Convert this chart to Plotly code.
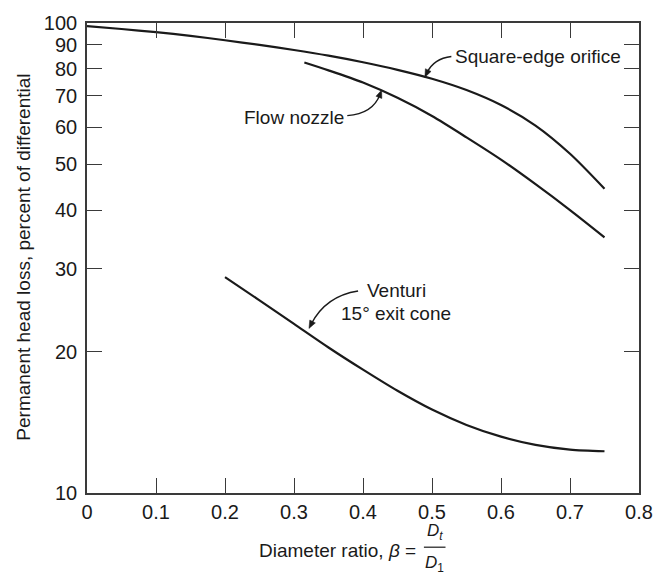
import math
import plotly.graph_objects as go

# ---- data ----
x_ticks = [0, 0.1, 0.2, 0.3, 0.4, 0.5, 0.6, 0.7, 0.8]
x_tick_text = ["0", "0.1", "0.2", "0.3", "0.4", "0.5", "0.6", "0.7", "0.8"]
y_ticks = [10, 20, 30, 40, 50, 60, 70, 80, 90, 100]
y_tick_text = ["10", "20", "30", "40", "50", "60", "70", "80", "90", "100"]

orifice_beta = [0.0, 0.05, 0.1, 0.15, 0.2, 0.25, 0.3, 0.35, 0.4, 0.45, 0.5,
                0.55, 0.6, 0.65, 0.7, 0.75]
orifice_loss = [98.5, 97.1, 95.6, 93.9, 91.9, 89.8, 87.6, 85.2, 82.5, 79.5, 76.1,
                72.0, 66.9, 60.5, 52.7, 44.4]

nozzle_beta = [0.315, 0.35, 0.4, 0.45, 0.5, 0.55, 0.6, 0.65, 0.7, 0.75]
nozzle_loss = [82.4, 79.3, 74.7, 69.3, 63.4, 57.1, 51.2, 45.4, 40.0, 35.0]

venturi_beta = [0.2, 0.25, 0.3, 0.35, 0.4, 0.45, 0.5, 0.55, 0.6, 0.65, 0.7, 0.75]
venturi_loss = [28.8, 25.7, 22.9, 20.4, 18.3, 16.5, 15.05, 13.96, 13.18, 12.66, 12.37, 12.27]

# ---- figure ----
W, H = 665, 578
L, R, T, B = 87, 16, 16, 85
FONT = "Liberation Sans, Arial, sans-serif"
INK = "#1a1a1a"

fig = go.Figure()
line_style = dict(color=INK, width=2.2, shape="spline", smoothing=0.8)
for name, xs, ys in [("Square-edge orifice", orifice_beta, orifice_loss),
                     ("Flow nozzle", nozzle_beta, nozzle_loss),
                     ("Venturi", venturi_beta, venturi_loss)]:
    fig.add_trace(go.Scatter(x=xs, y=ys, mode="lines", name=name,
                             line=line_style, showlegend=False, hoverinfo="skip"))


def fx(px):
    return (px - L) / (W - L - R)


def fy(py):
    return (H - B - py) / (H - T - B)


shapes = []
arrows = [
    # (start, control, end) in page pixels
    ((458, 50), (440, 52), (431, 71)),
    ((352, 110), (378, 108), (387, 84)),
    ((363, 288), (330, 293), (313, 326)),
]
for p0, c, p1 in arrows:
    dx, dy = p1[0] - c[0], p1[1] - c[1]
    n = math.hypot(dx, dy)
    ux, uy = dx / n, dy / n
    hl, hw = 8.0, 3.2
    bx, by = p1[0] - ux * hl, p1[1] - uy * hl
    shaft_end = (p1[0] - ux * hl * 0.6, p1[1] - uy * hl * 0.6)
    shapes.append(dict(
        type="path", xref="paper", yref="paper",
        path="M {:.4f},{:.4f} Q {:.4f},{:.4f} {:.4f},{:.4f}".format(
            fx(p0[0]), fy(p0[1]), fx(c[0]), fy(c[1]), fx(shaft_end[0]), fy(shaft_end[1])),
        line=dict(color=INK, width=1.4)))
    pts = [(p1[0], p1[1]), (bx - uy * hw, by + ux * hw), (bx + uy * hw, by - ux * hw)]
    shapes.append(dict(
        type="path", xref="paper", yref="paper",
        path="M {} L {} L {} Z".format(*["{:.4f},{:.4f}".format(fx(a), fy(b)) for a, b in pts]),
        fillcolor=INK, line=dict(color=INK, width=0.5)))

lab = dict(size=19, color=INK, family=FONT)
frac = dict(size=17, color=INK, family=FONT)
annotations = [
    dict(xref="paper", yref="paper", x=fx(460), y=fy(50), text="Square-edge orifice",
         xanchor="left", yanchor="middle", showarrow=False, font=lab),
    dict(xref="paper", yref="paper", x=fx(351), y=fy(112), text="Flow nozzle",
         xanchor="right", yanchor="middle", showarrow=False, font=lab),
    dict(xref="paper", yref="paper", x=fx(370), y=fy(287), text="Venturi",
         xanchor="left", yanchor="middle", showarrow=False, font=lab),
    dict(xref="paper", yref="paper", x=fx(344), y=fy(311), text="15° exit cone",
         xanchor="left", yanchor="middle", showarrow=False, font=lab),
    # y-axis title
    dict(xref="paper", yref="paper", x=fx(22), y=fy(254),
         text="Permanent head loss, percent of differential", textangle=-90,
         xanchor="center", yanchor="middle", showarrow=False, font=lab),
    # x-axis title with a stacked fraction
    dict(xref="paper", yref="paper", x=fx(424), y=fy(551),
         text="Diameter ratio, <i>β</i> =", xanchor="right", yanchor="middle",
         showarrow=False, font=lab),
    dict(xref="paper", yref="paper", x=fx(441), y=fy(533),
         text="<i>D<sub>t</sub></i>", xanchor="center", yanchor="middle",
         showarrow=False, font=frac),
    dict(xref="paper", yref="paper", x=fx(441), y=fy(565),
         text="<i>D</i><sub>1</sub>", xanchor="center", yanchor="middle",
         showarrow=False, font=frac),
]
shapes.append(dict(type="line", xref="paper", yref="paper",
                   x0=fx(430), x1=fx(452), y0=fy(548), y1=fy(548),
                   line=dict(color=INK, width=1.2)))

axis_common = dict(showline=True, linecolor="#3a3a3a", linewidth=1.6, mirror="ticks",
                   ticks="inside", ticklen=15, tickwidth=1.4, tickcolor="#3a3a3a",
                   showgrid=False, zeroline=False,
                   tickfont=dict(size=20, color=INK, family=FONT))

fig.update_layout(
    width=W, height=H,
    margin=dict(l=L, r=R, t=T, b=B, pad=0),
    paper_bgcolor="white", plot_bgcolor="white",
    xaxis=dict(range=[0, 0.8], tickvals=x_ticks, ticktext=x_tick_text,
               ticklabelstandoff=0, **axis_common),
    yaxis=dict(type="log", range=[1, 2], tickvals=y_ticks, ticktext=y_tick_text,
               ticklabelstandoff=4, **axis_common),
    shapes=shapes,
    annotations=annotations,
    showlegend=False,
)

fig.write_html("out.html", config={"displayModeBar": False},
               post_script="document.body.style.margin='0px';")
